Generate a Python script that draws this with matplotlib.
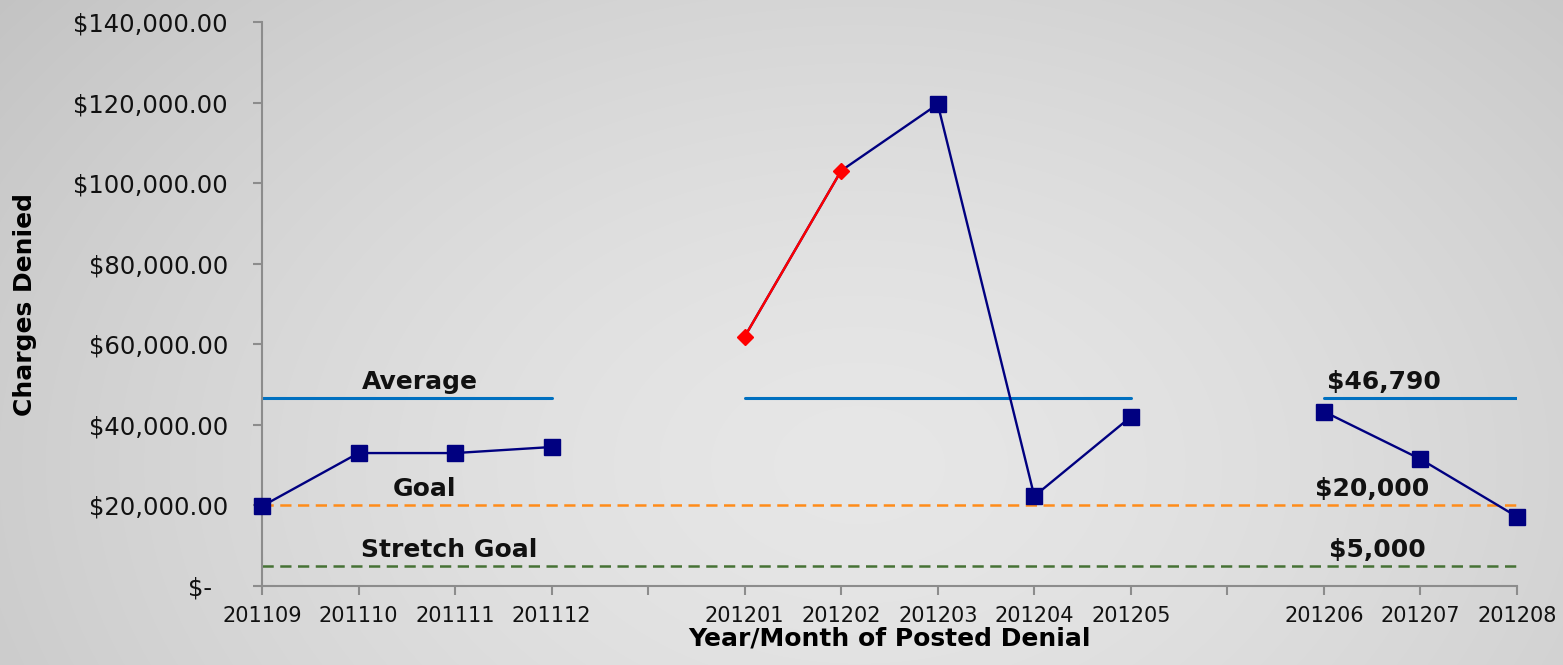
import numpy as np
import matplotlib
matplotlib.use("Agg")
import matplotlib.pyplot as plt

# monthly denied charges; blank categories split the series into runs
months = ["201109", "201110", "201111", "201112", "",
          "201201", "201202", "201203", "201204", "201205", "",
          "201206", "201207", "201208"]
charges = [19800, 33000, 33000, 34500, np.nan,
           61900, 103100, 119600, 22300, 42000, np.nan,
           43300, 31500, 17200]
flagged = ["201201", "201202"]          # red diamond points

average = 46790
goal = 20000
stretch_goal = 5000
average_runs = [("201109", "201112"), ("201201", "201205"), ("201206", "201208")]

NAVY = "#000080"
RED = "#FF0000"
AVG_BLUE = "#0070C0"
ORANGE = "#FF8C1A"
GREEN = "#467235"
SPINE = "#8C8C8C"

W, H, DPI = 1563, 665, 100
fig = plt.figure(figsize=(W / DPI, H / DPI), dpi=DPI)

# soft radial grey background
bg = fig.add_axes([0, 0, 1, 1], zorder=-10)
yy, xx = np.mgrid[0:1:H * 1j, 0:1:W * 1j]
d = np.sqrt(((xx - 0.55) / 0.8) ** 2 + ((yy - 0.7) / 1.3) ** 2)
shade = np.clip(0.905 - 0.17 * d ** 1.5, 0.76, 1)
rgb = np.dstack([shade] * 3)
bg.imshow(rgb, aspect="auto", extent=(0, 1, 0, 1), origin="upper",
          interpolation="bilinear")
bg.set_axis_off()

ax = fig.add_axes([262 / W, 1 - 586 / H, (1517 - 262) / W, (586 - 22) / H])
ax.set_facecolor("none")

x = np.arange(len(months))
y = np.array(charges, dtype=float)
idx = {m: i for i, m in enumerate(months) if m}

# average bars per run
for a, b in average_runs:
    ax.plot([idx[a], idx[b]], [average, average], color=AVG_BLUE, lw=2.2,
            solid_capstyle="round", zorder=2)

ax.plot([x[0], x[-1]], [goal, goal], color=ORANGE, lw=1.8,
        dashes=(4.5, 2.6), zorder=2)
ax.plot([x[0], x[-1]], [stretch_goal, stretch_goal], color=GREEN, lw=1.8,
        dashes=(4.5, 2.6), zorder=2)

# main series
ax.plot(x, y, color=NAVY, lw=1.7, zorder=3, clip_on=False)
fi = [idx[m] for m in flagged]
ax.plot(x[fi], y[fi], color=RED, lw=1.7, zorder=4)
normal = [i for i, m in enumerate(months) if m and m not in flagged]
ax.plot(x[normal], y[normal], ls="none", marker="s", ms=12, color=NAVY,
        zorder=5, clip_on=False)
ax.plot(x[fi], y[fi], ls="none", marker="D", ms=8.5, color=RED,
        zorder=5, clip_on=False)

# reference line labels
label_kw = dict(textcoords="offset pixels", ha="center", va="center",
                fontsize=18, fontweight="bold", color="#111111")
for text, xpos, val in [("Average", 1.64, average),
                        (f"${average:,.0f}", 11.62, average),
                        ("Goal", 1.68, goal),
                        (f"${goal:,.0f}", 11.5, goal),
                        ("Stretch Goal", 1.94, stretch_goal),
                        (f"${stretch_goal:,.0f}", 11.55, stretch_goal)]:
    ax.annotate(text, (xpos, val), xytext=(0, 16), **label_kw)

ax.set_xlim(0, len(months) - 1)
ax.set_ylim(0, 140000)
ax.set_xticks(x)
ax.set_xticklabels(months, fontsize=15, color="#111111")
yt = np.arange(0, 140001, 20000)
ax.set_yticks(yt)
ax.set_yticklabels([f"${v:,.2f}" if v else "$-  " for v in yt],
                   fontsize=17.5, color="#111111")

for side in ("top", "right"):
    ax.spines[side].set_visible(False)
for side in ("left", "bottom"):
    ax.spines[side].set_color(SPINE)
    ax.spines[side].set_linewidth(1.5)
ax.tick_params(axis="y", length=6.5, width=1.5, color=SPINE, pad=18)
ax.tick_params(axis="x", length=6.5, width=1.5, color=SPINE, pad=8)

ax.set_xlabel("Year/Month of Posted Denial", fontsize=18,
              fontweight="bold", labelpad=0)
ax.set_ylabel("Charges Denied", fontsize=18, fontweight="bold")
ax.yaxis.set_label_coords(-(262 - 37) / (1517 - 262), 0.5)

fig.savefig("out.png", dpi=DPI)
